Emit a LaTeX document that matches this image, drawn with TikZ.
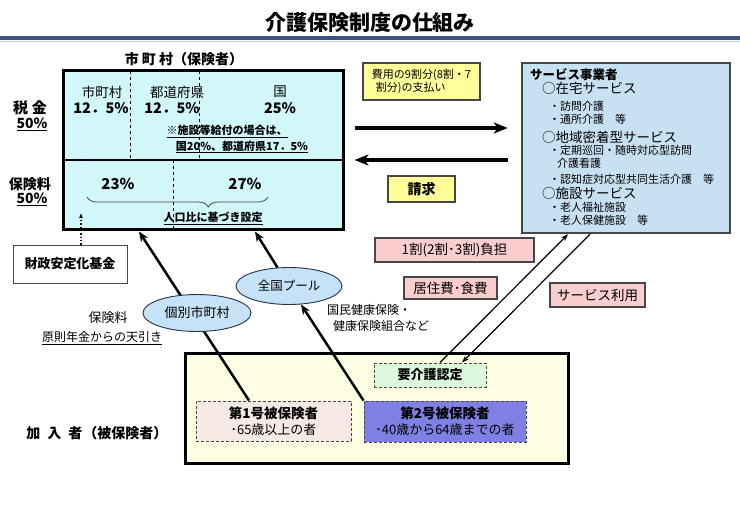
\documentclass[tikz,border=0pt]{standalone}
\usepackage{fontspec}
\setmainfont{Noto Sans CJK JP}
\usetikzlibrary{arrows.meta,decorations.pathreplacing,calc,shapes.geometric}
\definecolor{navybar}{RGB}{54,84,134}
\definecolor{lightbar}{RGB}{190,200,220}
\definecolor{cyanbg}{RGB}{210,247,250}
\definecolor{svcbg}{RGB}{200,225,242}
\definecolor{ellbg}{RGB}{198,226,246}
\definecolor{yellowbg}{RGB}{255,255,153}
\definecolor{pinkbg}{RGB}{250,206,206}
\definecolor{bottombg}{RGB}{255,255,228}
\definecolor{greenbg}{RGB}{220,248,220}
\definecolor{firstbg}{RGB}{246,232,228}
\definecolor{secondbg}{RGB}{128,128,228}
\definecolor{darkline}{RGB}{70,70,70}
\newcommand\fsz[1]{\fontsize{#1}{#1}\selectfont}
\begin{document}
\begin{tikzpicture}[x=1pt,y=-1pt,
  txt/.style={inner sep=0pt},
  boxa/.style={draw=darkline, line width=1.5pt, inner sep=0pt},
  pinkbox/.style={draw=darkline, line width=1.1pt, fill=pinkbg, inner sep=0pt, font=\fsz{13.5}},
  ellnode/.style={ellipse, draw={rgb,255:red,40;green,50;blue,70}, line width=0.9pt, fill=ellbg, inner sep=0pt, font=\fsz{12.5}},
  dashbox/.style={draw=darkline, line width=1pt, dash pattern=on 3pt off 2pt, inner sep=0pt},
  bigarrow/.style={line width=3.5pt, -{Stealth[length=14pt,width=11pt,inset=4pt]}},
  thickarrow/.style={line width=2.5pt, -{Stealth[length=10pt,width=8pt,inset=3pt]}},
  thinarrow/.style={line width=1.2pt, -{Stealth[length=7pt,width=5pt,inset=2pt]}},
  svcitem/.style={anchor=west, inner sep=0pt, font=\fsz{11}},
  svchead/.style={anchor=west, inner sep=0pt, font=\fsz{13.5}}
]
\useasboundingbox (0,0) rectangle (740,524);
\fill[white] (0,0) rectangle (740,524);

% title
\node[txt, font=\bfseries\fsz{21}] (title) at (370,23) {介護保険制度の仕組み};
\fill[navybar] (0,36.5) rectangle (740,40);
\draw[lightbar, line width=0.8pt] (0,41.5) -- (740,41.5);

% insurer box
\node[txt, font=\bfseries\fsz{14}] (hdr) at (184,59) {市 町 村（保険者）};
\node[draw, line width=3pt, fill=cyanbg, minimum width=280pt, minimum height=159pt, inner sep=0pt] (main) at (203,150.5) {};
\draw[line width=1.5pt] (main.west |- 0,160) coordinate (dl) -- (main.east |- dl);
\draw[dashed, line width=0.8pt] (130,71.5) -- (130,160);
\draw[dashed, line width=0.8pt] (199,71.5) -- (199,160);
\draw[dashed, line width=0.8pt] (173,160) -- (173,228.5);

\node[txt, font=\fsz{13.5}] (t1) at (102,92) {市町村};
\node[txt, font=\bfseries\fsz{14.5}] (t1p) at (101,108) {12．5\%};
\node[txt, font=\fsz{13.5}] (t2) at (177,92) {都道府県};
\node[txt, font=\bfseries\fsz{14.5}] (t2p) at (172,108) {12．5\%};
\node[txt, font=\fsz{13.5}] (t3) at (280,92) {国};
\node[txt, font=\bfseries\fsz{14.5}] (t3p) at (280,108) {25\%};
\node[txt, font=\bfseries\fsz{11}] (note1) at (227,131) {\underline{※施設等給付の場合は、}};
\node[txt, font=\bfseries\fsz{11}] (note2) at (242,147) {\underline{国20\%、都道府県17．5\%}};
\node[txt, font=\bfseries\fsz{15}] (p23) at (118,184) {23\%};
\node[txt, font=\bfseries\fsz{15}] (p27) at (245,184) {27\%};
\draw[line width=0.8pt, darkline, decorate, decoration={brace, mirror, amplitude=10pt, aspect=0.67}] (87,197) -- (268,197);
\node[txt, font=\bfseries\fsz{11}] (pop) at (213,218) {\underline{人口比に基づき設定}};

% left labels
\node[txt, font=\bfseries\fsz{15}] (zei) at (30,108) {税\hspace{4pt}金};
\node[txt, font=\bfseries\fsz{14}] (zeip) at (32,124) {\underline{50\%}};
\node[txt, font=\bfseries\fsz{14}] (hok) at (30,184) {保険料};
\node[txt, font=\bfseries\fsz{14}] (hokp) at (32,199) {\underline{50\%}};

% fund
\node[draw=darkline, line width=0.9pt, minimum width=114pt, minimum height=38pt, inner sep=0pt, font=\bfseries\fsz{13}] (zaisei) at (70,264) {財政安定化基金};
\draw[dotted, line width=1.3pt, -{Stealth[length=5pt,width=4pt]}] ([xshift=11pt]zaisei.north) -- ([xshift=-122pt,yshift=18pt]main.south);

\node[txt, font=\fsz{13}] (hl) at (108,318) {保険料};
\node[txt, font=\fsz{12}] (nenkin) at (102,338) {\underline{原則年金からの天引き}};

% service provider box
\node[draw=darkline, line width=2.5pt, fill=svcbg, minimum width=208pt, minimum height=170pt, inner sep=0pt] (svc) at (626,148) {};
\node[anchor=west, inner sep=0pt, font=\bfseries\fsz{12.5}] (s0) at (530,75) {サービス事業者};
\node[svchead] (s1) at (542,88) {○在宅サービス};
\node[svcitem] (s2) at (549,106) {・訪問介護};
\node[svcitem] (s3) at (549,119) {・通所介護　等};
\node[svchead] (s4) at (542,137) {○地域密着型サービス};
\node[svcitem] (s5) at (549,150) {・定期巡回・随時対応型訪問};
\node[svcitem] (s6) at (557,163) {介護看護};
\node[svcitem] (s7) at (549,179) {・認知症対応型共同生活介護　等};
\node[svchead] (s8) at (542,193) {○施設サービス};
\node[svcitem] (s9) at (549,207) {・老人福祉施設};
\node[svcitem] (s10) at (549,220) {・老人保健施設　等};

% payment arrows
\coordinate (h1) at ([xshift=10pt,yshift=22.5pt]main.east);
\coordinate (h2) at ([xshift=10pt,yshift=-9.5pt]main.east);
\draw[bigarrow] (h1) -- ($(h1 -| svc.west)+(-13,0)$);
\draw[bigarrow] ($(h2 -| svc.west)+(-13,0)$) -- (h2);
\node[boxa, fill=yellowbg, minimum width=117pt, minimum height=37pt, align=left, font=\fsz{11}] (pay) at (421.5,81.5) {費用の9割分(8割・7\\[1pt]\hspace{4pt}割分)の支払い};
\node[boxa, fill=yellowbg, minimum width=67pt, minimum height=26pt, font=\bfseries\fsz{14}] (seikyu) at (421.5,189) {請求};

% pink boxes
\node[pinkbox, minimum width=159pt, minimum height=24pt] (futan) at (454.5,250) {1割(2割･3割)負担};
\node[pinkbox, minimum width=93pt, minimum height=22pt] (kyoju) at (450.5,288) {居住費･食費};
\node[pinkbox, minimum width=95pt, minimum height=24pt] (riyou) at (597.5,295) {サービス利用};

% bottom box
\node[draw, line width=3pt, fill=bottombg, minimum width=383pt, minimum height=110pt, inner sep=0pt] (bottom) at (376.5,408) {};
\node[dashbox, fill=greenbg, minimum width=112pt, minimum height=24pt, font=\bfseries\fsz{13}] (yo) at (430,375) {要介護認定};
\node[dashbox, fill=firstbg, minimum width=155pt, minimum height=40pt, align=center] (p1) at (273.5,421) {{\bfseries\fsz{13.5}第1号被保険者}\\[3pt]{\fsz{13}･65歳以上の者}};
\node[dashbox, fill=secondbg, minimum width=162pt, minimum height=41pt, align=center] (p2) at (445,421.5) {{\bfseries\fsz{13.5}第2号被保険者}\\[3pt]{\fsz{13}･40歳から64歳までの者}};
\node[txt, font=\bfseries\fsz{14}] (kanyu) at (97,433) {加\hspace{7pt}入\hspace{7pt}者\hspace{1pt}（被保険者）};

% contribution lines
\draw[thickarrow] ([xshift=-24.5pt]p1.north) -- ([xshift=-64pt]main.south);
\node[ellnode, minimum width=108pt, minimum height=37pt, font=\fsz{13}] (kobetsu) at (197,313) {個別市町村};
\node[ellnode, minimum width=106pt, minimum height=37pt] (zenkoku) at (289,286) {全国プール};
\draw[thickarrow] (p2.north west) -- (zenkoku);
\draw[thickarrow] (zenkoku) -- ([xshift=52pt]main.south);
\node[txt, anchor=west, font=\fsz{12}] (kokumin1) at (327,310) {国民健康保険・};
\node[txt, anchor=west, font=\fsz{12}] (kokumin2) at (333,326) {健康保険組合など};

% certification arrows
\draw[thinarrow] ([xshift=10pt]yo.north) -- ([xshift=-58pt]svc.south);
\draw[thinarrow] ([xshift=-36pt]svc.south) -- ([xshift=32pt]yo.north);
\end{tikzpicture}
\end{document}
